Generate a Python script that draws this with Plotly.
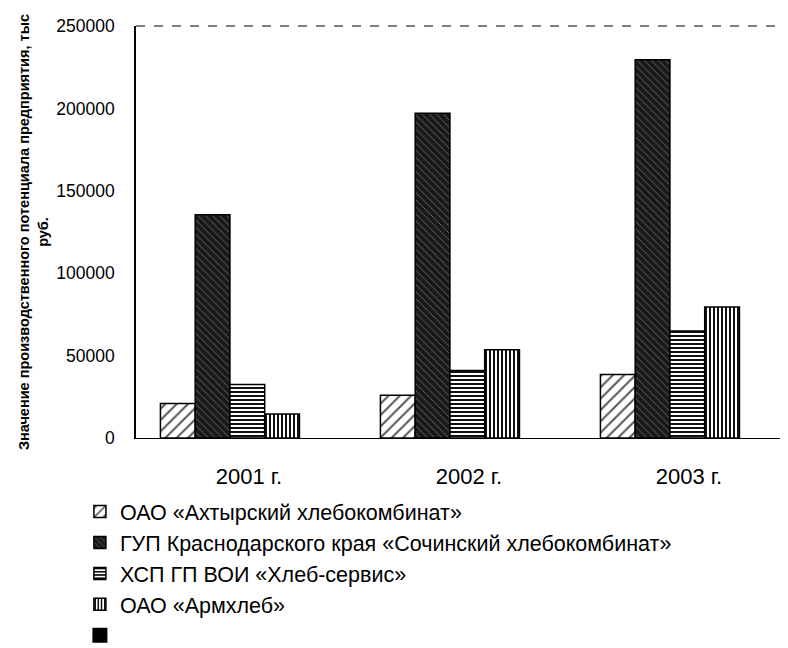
import plotly.graph_objects as go

years = ["2001 г.", "2002 г.", "2003 г."]
series_names = [
    "ОАО «Ахтырский хлебокомбинат»",
    "ГУП Краснодарского края «Сочинский хлебокомбинат»",
    "ХСП ГП ВОИ «Хлеб-сервис»",
    "ОАО «Армхлеб»",
]
akhtyrsky = [21000, 26000, 38500]
sochinsky = [135500, 197000, 229500]
khleb_servis = [32500, 41000, 65000]
armkhleb = [14500, 53500, 79500]
values = [akhtyrsky, sochinsky, khleb_servis, armkhleb]
y_ticks = [0, 50000, 100000, 150000, 200000, 250000]

styles = [
    dict(fillcolor="white", fgcolor="#555555", shape="/", solidity=0.25, size=8),
    dict(fillcolor="#1a1a1a", fgcolor="#777777", shape="\\", solidity=0.15, size=5),
    dict(fillcolor="white", fgcolor="#111111", shape="-", solidity=0.5, size=4),
    dict(fillcolor="white", fgcolor="#111111", shape="|", solidity=0.5, size=4),
]

FONT = "Liberation Sans, Arial, sans-serif"

fig = go.Figure()
for i, (name, vals, st) in enumerate(zip(series_names, values, styles)):
    fig.add_trace(go.Bar(
        x=years, y=vals, name=name, legendgroup=f"g{i}",
        marker=dict(
            color=st["fillcolor"],
            line=dict(color="black", width=1.5),
            pattern=dict(shape=st["shape"], fgcolor=st["fgcolor"], bgcolor=st["fillcolor"],
                         solidity=st["solidity"], size=st["size"], fillmode="replace"),
        ),
    ))
# empty fifth legend entry (black square, no label) - does not take a bar slot
fig.add_trace(go.Scatter(
    x=[None], y=[None], name=" ", legendgroup="g5", mode="markers",
    marker=dict(symbol="square", color="black", size=15),
))

fig.update_layout(
    width=788, height=648,
    margin=dict(l=128, r=0, t=18, b=216),
    paper_bgcolor="white", plot_bgcolor="white",
    barmode="group", bargap=0.368, bargroupgap=0,
    font=dict(family=FONT, color="black", size=16),
    showlegend=True,
    legend=dict(
        x=-0.085, y=-0.13, xanchor="left", yanchor="top",
        orientation="v", tracegroupgap=0,
        font=dict(family=FONT, size=21.5, color="black"),
        itemwidth=30,
    ),
    xaxis=dict(
        range=[-0.427, 2.573], automargin=False,
        showline=True, linecolor="black", linewidth=1,
        ticks="", tickfont=dict(size=22), showgrid=False,
        ticklabelshift=19, ticklabelstandoff=19,
    ),
    yaxis=dict(
        range=[0, 250000], tickvals=y_ticks, ticktext=[str(v) for v in y_ticks],
        automargin=False,
        showline=True, linecolor="black", linewidth=1.5,
        ticks="", showgrid=False, tickfont=dict(size=17.5), ticklabelstandoff=16,
        title=dict(
            text="<b>Значение производственного потенциала предприятия, тыс<br>руб.</b>",
            font=dict(size=14.5), standoff=4,
        ),
        zeroline=False,
    ),
    shapes=[
        dict(type="line", xref="paper", yref="paper", x0=0, x1=1, y0=1, y1=1,
             line=dict(color="black", width=1.2, dash="dash")),
        dict(type="line", xref="paper", yref="paper", x0=0.994, x1=0.994, y0=0.15, y1=0.97,
             line=dict(color="black", width=1.2, dash="dot")),
    ],
)

fig.write_html("out.html")
